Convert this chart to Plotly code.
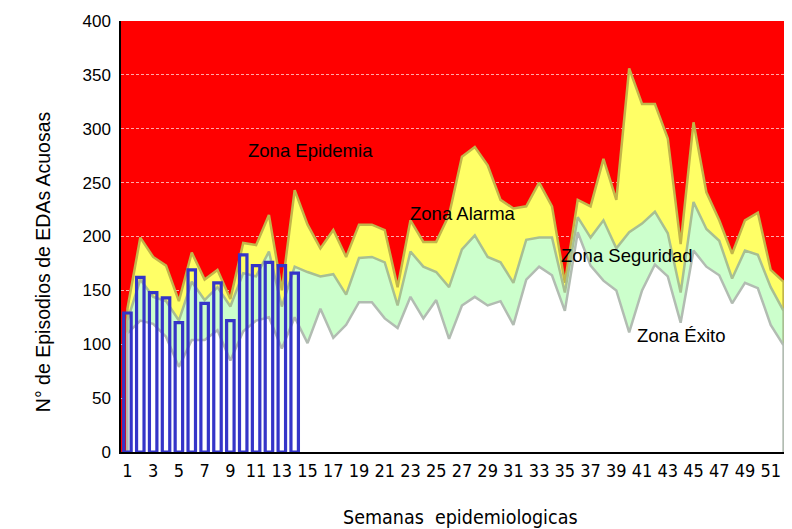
import plotly.graph_objects as go

weeks = list(range(1, 53))

# Upper limit of alarm zone (yellow top)
alarma = [133, 199, 181, 173, 140, 185, 160, 169, 142, 194,
          192, 220, 150, 243, 211, 189, 206, 181, 211, 211,
          206, 153, 215, 195, 195, 220, 274, 283, 266, 234,
          226, 228, 250, 228, 157, 234, 228, 272, 234, 356,
          323, 323, 291, 193, 306, 241, 215, 184, 215, 222,
          169, 158]

# Upper limit of security zone (green top)
seguridad = [122, 160, 144, 140, 122, 158, 141, 153, 135, 166,
             163, 186, 135, 172, 167, 163, 165, 146, 180, 181,
             176, 136, 186, 172, 167, 153, 188, 201, 181, 176,
             157, 197, 199, 199, 148, 218, 199, 215, 189, 204,
             212, 223, 203, 148, 232, 207, 196, 161, 187, 183,
             153, 131]

# Upper limit of success zone (white top)
exito = [110, 122, 119, 107, 79, 104, 104, 113, 85, 112,
         122, 125, 96, 125, 101, 133, 106, 118, 139, 139,
         124, 115, 144, 124, 141, 105, 136, 144, 136, 140,
         118, 160, 172, 164, 131, 204, 173, 159, 150, 111,
         150, 174, 163, 120, 187, 172, 164, 138, 157, 152,
         118, 99]

# Observed cases (bars)
casos_semanas = list(range(1, 15))
casos = [129, 162, 148, 143, 120, 169, 138, 157, 122, 183, 173, 176, 173, 166]

zone_labels = ["Zona Epidemia", "Zona Alarma", "Zona Seguridad", "Zona Éxito"]
zone_x = [15.2, 27.1, 39.8, 44.0]
zone_y = [280, 221, 182, 108]

x_ticks = list(range(1, 52, 2))
y_ticks = list(range(0, 401, 50))

NARROW = "Liberation Sans Narrow, DejaVu Sans Condensed, Liberation Sans"
ARIAL = "Liberation Sans, Arial"

fig = go.Figure()

def closed(vals):
    return [weeks[0]] + weeks + [weeks[-1]], [0] + vals + [0]

for vals, fill, line in [(alarma, "#ffff66", "#c2b64a"),
                         (seguridad, "#ccffcc", "#a8bf92"),
                         (exito, "#ffffff", "#b2bcb2")]:
    xs, ys = closed(vals)
    fig.add_trace(go.Scatter(x=xs, y=ys, mode="lines", fill="toself",
                             fillcolor=fill, line=dict(color=line, width=2.5),
                             hoverinfo="skip", showlegend=False))

fig.add_trace(go.Bar(x=casos_semanas, y=casos, width=0.58, xaxis="x2", yaxis="y2",
                     marker=dict(color="rgba(0,0,0,0)",
                                 line=dict(color="#3535c8", width=3.2)),
                     showlegend=False))

for t, x, y in zip(zone_labels, zone_x, zone_y):
    fig.add_annotation(x=x, y=y, text=t, showarrow=False,
                       font=dict(family=ARIAL, size=18.5, color="#000"))

fig.add_annotation(xref="paper", yref="paper", x=0.508, y=-0.152, yanchor="middle",
                   text="Semanas  epidemiologicas", showarrow=False,
                   font=dict(family=NARROW, size=19.5, color="#000"))
fig.add_annotation(xref="paper", yref="paper", x=-0.135, y=0.442, textangle=-90,
                   text="N° de Episodios de EDAs Acuosas", showarrow=False,
                   font=dict(family=ARIAL, size=19.5, color="#000"))

fig.add_shape(type="line", xref="paper", yref="paper", x0=1, x1=1, y0=0, y1=1,
              line=dict(color="#555", width=1.5))

fig.update_layout(
    width=784, height=521,
    margin=dict(l=113, r=2, t=13, b=77),
    paper_bgcolor="white", plot_bgcolor="#ff0000",
    barmode="overlay",
    xaxis=dict(range=[0.5, 52.5], tickvals=x_ticks, ticktext=[str(v) for v in x_ticks],
               showgrid=False, zeroline=False, showline=True, linecolor="#000", linewidth=1.5,
               ticks="", ticklabelstandoff=2,
               tickfont=dict(family=NARROW, size=18, color="#000")),
    yaxis=dict(range=[0, 400], tickvals=y_ticks, showgrid=True,
               gridcolor="rgba(255,225,225,0.75)", griddash="3px,2px", gridwidth=1,
               zeroline=False, showline=True, linecolor="#000", linewidth=1.5,
               ticks="", ticklabelstandoff=5,
               tickfont=dict(family=ARIAL, size=17, color="#000")),
    xaxis2=dict(range=[0.5, 52.5], overlaying="x", visible=False),
    yaxis2=dict(range=[0, 400], overlaying="y", visible=False),
)

fig.write_html("out.html")
